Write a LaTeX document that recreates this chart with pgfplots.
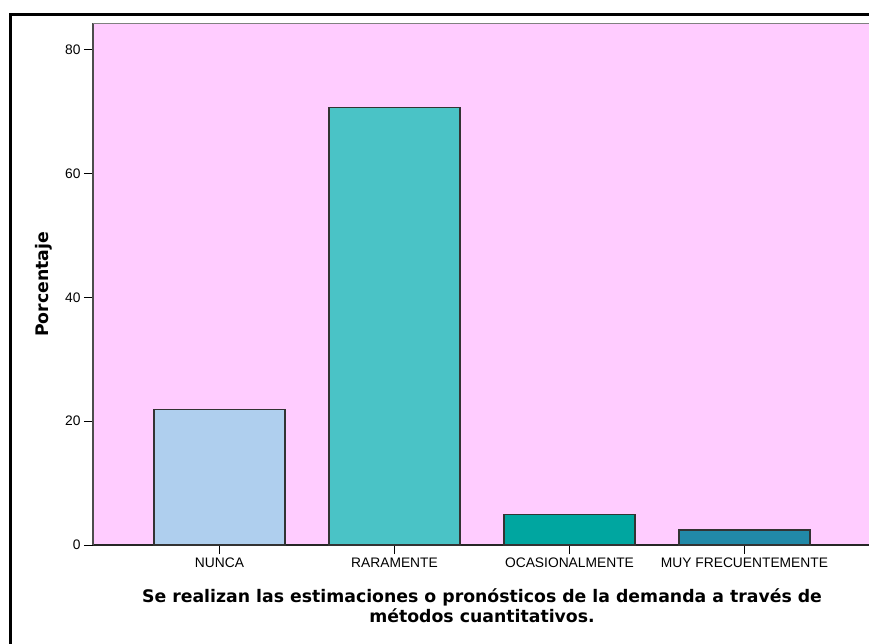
\documentclass[border=0pt]{standalone}
\usepackage{fontspec}
\setmainfont{Liberation Sans}
\newfontfamily\dejavu{DejaVu Sans}
\usepackage{pgfplots}
\pgfplotsset{compat=1.18}

\definecolor{bgpink}{HTML}{FFCCFF}
\definecolor{cNunca}{HTML}{AFCFEE}
\definecolor{cRara}{HTML}{4AC3C6}
\definecolor{cOcas}{HTML}{00A6A0}
\definecolor{cMuy}{HTML}{2189A8}
\definecolor{edge}{HTML}{333333}

\begin{document}
\begin{tikzpicture}[x=1pt,y=1pt]
% page = 869 x 643, frame runs off right and bottom edges
\useasboundingbox (0,0) rectangle (869,643);
\clip (0,0) rectangle (869,643);
\fill[white] (0,0) rectangle (869,643);
\draw[line width=3pt] (10.5,-40) rectangle (900,628);

\begin{axis}[
    at={(93pt,98pt)}, anchor=south west,
    scale only axis,
    width=778pt, height=521.5pt,
    xmin=-0.723, xmax=3.723,
    ymin=0, ymax=84.28,
    axis x line*=bottom,
    axis y line*=left,
    x axis line style={draw=black!85, line width=1.3pt, -},
    y axis line style={draw=black!70, line width=1.1pt, -},
    axis background/.style={fill=bgpink},
    xtick={0,1,2,3},
    xticklabels={NUNCA,RARAMENTE,OCASIONALMENTE,MUY FRECUENTEMENTE},
    ytick={0,20,40,60,80},
    tick align=outside,
    major tick length=9pt,
    tick style={black, line width=1pt},
    /pgf/number format/assume math mode=true,
    ticklabel style={font=\fontsize{13.8}{16}\selectfont},
    ylabel={Porcentaje},
    ylabel style={at={(axis description cs:-0.0636,0.5)}, anchor=center,
                  font=\dejavu\bfseries\fontsize{17.3}{20}\selectfont, inner sep=0pt},
    xlabel={Se realizan las estimaciones o pronósticos de la demanda a través de\\métodos cuantitativos.},
    xlabel style={at={(axis description cs:0.5,0)}, anchor=north, yshift=-43pt,
                  align=center, inner sep=0pt,
                  font=\dejavu\bfseries\fontsize{17.3}{20}\selectfont},
    clip=false,
]
\addplot[ybar, bar width=131pt, bar shift=0pt, fill=cNunca, draw=edge, line width=1.2pt] coordinates {(0,21.95)};
\addplot[ybar, bar width=131pt, bar shift=0pt, fill=cRara, draw=edge, line width=1.2pt] coordinates {(1,70.73)};
\addplot[ybar, bar width=131pt, bar shift=0pt, fill=cOcas, draw=edge, line width=1.2pt] coordinates {(2,4.88)};
\addplot[ybar, bar width=131pt, bar shift=0pt, fill=cMuy, draw=edge, line width=1.2pt] coordinates {(3,2.44)};
\draw[gray, line width=1.2pt] (rel axis cs:0,1) -- (rel axis cs:1,1);
\end{axis}
\end{tikzpicture}
\end{document}
